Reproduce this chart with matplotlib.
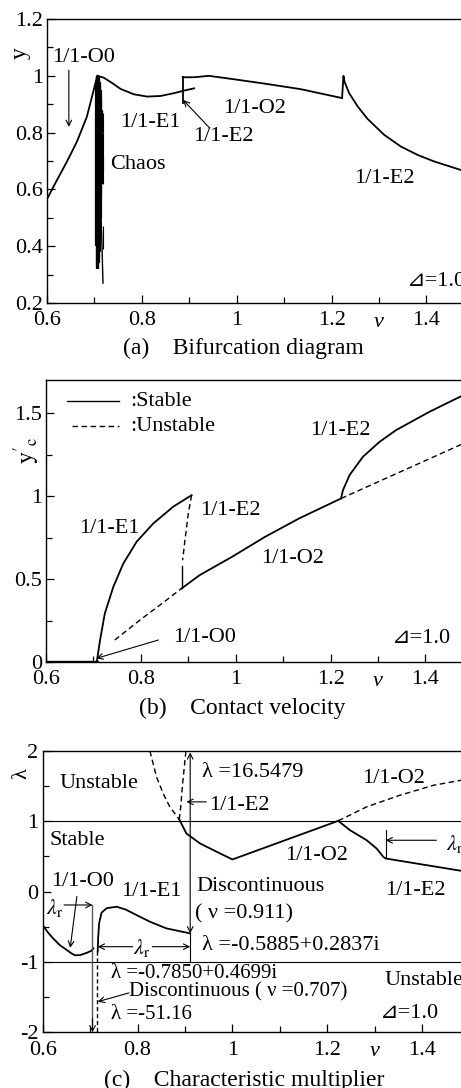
import numpy as np
from matplotlib import pyplot as plt
from matplotlib.ticker import MultipleLocator, FormatStrFormatter
import matplotlib.transforms as mtransforms

plt.rcParams['font.family'] = ['Liberation Serif', 'DejaVu Sans']
plt.rcParams['mathtext.fontset'] = 'stix'

# ---------------- (a) bifurcation diagram ----------------
a_o0_nu = [0.600, 0.621, 0.642, 0.663, 0.684, 0.706]
a_o0_y = [0.566, 0.633, 0.698, 0.768, 0.856, 1.000]

a_e1_nu = [0.707, 0.720, 0.737, 0.755, 0.783, 0.811, 0.839, 0.868, 0.889, 0.910]
a_e1_y = [1.000, 0.993, 0.975, 0.954, 0.935, 0.927, 0.929, 0.939, 0.948, 0.956]

a_e2_jump_nu = [0.886, 0.886]
a_e2_jump_y = [0.905, 0.995]

a_o2_nu = [0.886, 0.910, 0.941, 0.994, 1.065, 1.135, 1.221]
a_o2_y = [0.995, 0.995, 1.000, 0.988, 0.971, 0.953, 0.922]

a_e2_nu = [1.222, 1.225, 1.227, 1.237, 1.255, 1.276, 1.311, 1.346, 1.382, 1.417, 1.477, 1.52]
a_e2_y = [0.922, 1.000, 0.980, 0.939, 0.892, 0.848, 0.792, 0.751, 0.721, 0.698, 0.666, 0.648]

# chaotic band, read as vertical spans
chaos_nu = [0.704, 0.705, 0.706, 0.707, 0.708, 0.709, 0.710, 0.711, 0.712, 0.713, 0.714, 0.715]
chaos_top = [0.97, 1.00, 1.00, 1.00, 1.00, 1.00, 0.99, 0.98, 0.97, 0.95, 0.92, 0.88]
chaos_bot = [0.40, 0.33, 0.32, 0.32, 0.33, 0.34, 0.36, 0.38, 0.42, 0.50, 0.58, 0.62]
chaos_dot_nu = [0.717, 0.718, 0.718, 0.719]
chaos_dot_top = [0.87, 0.80, 0.47, 0.72]
chaos_dot_bot = [0.80, 0.62, 0.39, 0.66]
chaos_tail_nu = [0.712, 0.714, 0.716, 0.717, 0.718]
chaos_tail_y = [0.62, 0.50, 0.40, 0.33, 0.27]

# ---------------- (b) contact velocity ----------------
b_o0_nu = [0.600, 0.707]
b_o0_y = [0.0, 0.0]

b_e1_nu = [0.707, 0.714, 0.724, 0.742, 0.763, 0.791, 0.826, 0.868, 0.907]
b_e1_y = [0.000, 0.133, 0.293, 0.454, 0.594, 0.725, 0.835, 0.936, 1.006]

b_e2u_nu = [0.907, 0.900, 0.893, 0.888]
b_e2u_y = [1.006, 0.896, 0.735, 0.614]
b_e2s_nu = [0.886, 0.886]
b_e2s_y = [0.580, 0.444]

b_o2u_low_nu = [0.745, 0.798, 0.840, 0.886]
b_o2u_low_y = [0.133, 0.253, 0.343, 0.444]

b_o2_nu = [0.886, 0.924, 0.992, 1.062, 1.133, 1.222]
b_o2_y = [0.444, 0.524, 0.634, 0.755, 0.865, 0.986]

b_o2u_nu = [1.222, 1.472, 1.52]
b_o2u_y = [0.986, 1.307, 1.37]

b_e2_nu = [1.222, 1.226, 1.240, 1.268, 1.303, 1.338, 1.408, 1.472, 1.52]
b_e2_y = [0.986, 1.036, 1.127, 1.237, 1.327, 1.398, 1.508, 1.598, 1.66]

# ---------------- (c) characteristic multiplier ----------------
c_o0_nu = [0.600, 0.611, 0.622, 0.636, 0.651, 0.660, 0.668, 0.679, 0.693, 0.703, 0.707]
c_o0_y = [-0.476, -0.580, -0.665, -0.760, -0.831, -0.875, -0.905, -0.902, -0.870, -0.840, -0.807]

c_e1_nu = [0.716, 0.717, 0.719, 0.724, 0.735, 0.756, 0.775, 0.791, 0.826, 0.861, 0.911]
c_e1_y = [-0.850, -0.650, -0.450, -0.300, -0.235, -0.215, -0.255, -0.310, -0.428, -0.523, -0.594]

c_o0u_nu = [0.826, 0.840, 0.854, 0.868, 0.888]
c_o0u_y = [2.000, 1.631, 1.394, 1.205, 1.026]

c_e2u_nu = [0.888, 0.891, 0.895, 0.902]
c_e2u_y = [1.026, 1.205, 1.536, 2.000]

c_o2_nu = [0.888, 0.903, 0.932, 0.967, 1.000, 1.223]
c_o2_y = [1.026, 0.826, 0.684, 0.566, 0.457, 1.006]

c_o2u_nu = [1.223, 1.283, 1.353, 1.424, 1.482, 1.52]
c_o2u_y = [1.006, 1.205, 1.370, 1.512, 1.583, 1.62]

c_e2_nu = [1.223, 1.248, 1.283, 1.304, 1.318, 1.323, 1.482, 1.52]
c_e2_y = [1.006, 0.873, 0.731, 0.613, 0.495, 0.471, 0.296, 0.26]

xticks = [0.6, 0.8, 1.0, 1.2, 1.4]

LW = 1.3
FS = 16
DASH = (0, (4, 2.5))


def style_axes(ax, ylim, ymajor, yminor):
    """Common frame, ticks and the nu label."""
    ax.set_xlim(0.6, 1.5)
    ax.set_ylim(*ylim)
    ax.set_xticks(xticks)
    ax.xaxis.set_minor_locator(MultipleLocator(0.1))
    ax.yaxis.set_major_locator(MultipleLocator(ymajor))
    ax.yaxis.set_minor_locator(MultipleLocator(yminor))
    ax.xaxis.set_major_formatter(FormatStrFormatter('%g'))
    ax.yaxis.set_major_formatter(FormatStrFormatter('%g'))
    ax.tick_params(which='both', direction='in', labelsize=FS, width=0.9)
    ax.tick_params(which='major', length=6, pad=3)
    ax.tick_params(axis='x', which='major', pad=6)
    ax.tick_params(which='minor', length=4)
    for s in ax.spines.values():
        s.set_linewidth(1.0)
    trans = mtransforms.blended_transform_factory(ax.transData, ax.transAxes)
    ax.text(1.3, -0.035, 'ν', transform=trans, ha='center', va='top',
            fontsize=FS, style='italic')


def arrow(ax, xy, xytext, style='->'):
    ax.annotate('', xy=xy, xytext=xytext,
                arrowprops=dict(arrowstyle=style, lw=0.8, color='k',
                                shrinkA=0, shrinkB=0))


fig = plt.figure(figsize=(4.61, 10.88), dpi=100)
ax_a = fig.add_axes([0.102, 0.7215, 0.926, 0.261])
ax_b = fig.add_axes([0.0998, 0.3915, 0.926, 0.2592])
ax_c = fig.add_axes([0.0926, 0.0512, 0.926, 0.2586])

# (a)
ax = ax_a
ax.plot(a_o0_nu, a_o0_y, 'k-', lw=LW)
ax.plot(a_e1_nu, a_e1_y, 'k-', lw=LW)
ax.plot(a_e2_jump_nu, a_e2_jump_y, 'k-', lw=LW)
ax.plot(a_o2_nu, a_o2_y, 'k-', lw=LW)
ax.plot(a_e2_nu, a_e2_y, 'k-', lw=LW)
ax.vlines(chaos_nu, chaos_bot, chaos_top, colors='k', lw=1.6)
ax.vlines(chaos_dot_nu, chaos_dot_bot, chaos_dot_top, colors='k', lw=0.8)
ax.plot(chaos_tail_nu, chaos_tail_y, 'k-', lw=1.0)
style_axes(ax, (0.2, 1.2), 0.2, 0.1)
ax.text(-0.063, 1.08, 'y', transform=mtransforms.blended_transform_factory(ax.transAxes, ax.transData),
        rotation=90, ha='center', va='center', fontsize=FS + 1)
ax.text(0.676, 1.063, '1/1-O0', ha='center', va='center', fontsize=FS)
arrow(ax, (0.646, 0.82), (0.646, 1.02))
ax.text(0.817, 0.837, '1/1-E1', ha='center', va='center', fontsize=FS)
ax.text(0.971, 0.785, '1/1-E2', ha='center', va='center', fontsize=FS)
arrow(ax, (0.887, 0.915), (0.943, 0.816))
ax.text(1.038, 0.886, '1/1-O2', ha='center', va='center', fontsize=FS)
ax.text(0.733, 0.686, 'Chaos', ha='left', va='center', fontsize=FS)
ax.text(1.311, 0.64, '1/1-E2', ha='center', va='center', fontsize=FS)
ax.text(1.358, 0.274, '⊿=1.0', ha='left', va='center', fontsize=FS)

# (b)
ax = ax_b
ax.plot(b_o0_nu, b_o0_y, 'k-', lw=2.4)
ax.plot(b_e1_nu, b_e1_y, 'k-', lw=LW)
ax.plot(b_e2u_nu, b_e2u_y, 'k', ls=DASH, lw=1.0)
ax.plot(b_e2s_nu, b_e2s_y, 'k-', lw=1.0)
ax.plot(b_o2u_low_nu, b_o2u_low_y, 'k', ls=DASH, lw=1.0)
ax.plot(b_o2_nu, b_o2_y, 'k-', lw=LW)
ax.plot(b_o2u_nu, b_o2u_y, 'k', ls=DASH, lw=1.0)
ax.plot(b_e2_nu, b_e2_y, 'k-', lw=LW)
style_axes(ax, (0, 1.7), 0.5, 0.25)
ax.text(-0.045, 1.277, r"$\mathrm{y}'_\mathrm{c}$", transform=mtransforms.blended_transform_factory(ax.transAxes, ax.transData),
        rotation=90, ha='center', va='center', fontsize=FS + 1)
ax.plot([0.644, 0.754], [1.573, 1.573], 'k-', lw=1.0)
ax.text(0.778, 1.573, ':Stable', ha='left', va='center', fontsize=FS)
ax.plot([0.655, 0.754], [1.422, 1.422], 'k', ls=DASH, lw=1.0)
ax.text(0.778, 1.422, ':Unstable', ha='left', va='center', fontsize=FS)
ax.text(0.733, 0.805, '1/1-E1', ha='center', va='center', fontsize=FS)
ax.text(0.924, 0.916, '1/1-E2', ha='left', va='center', fontsize=FS)
ax.text(1.119, 0.624, '1/1-O2', ha='center', va='center', fontsize=FS)
ax.text(1.22, 1.398, '1/1-E2', ha='center', va='center', fontsize=FS)
ax.text(0.867, 0.145, '1/1-O0', ha='left', va='center', fontsize=FS)
arrow(ax, (0.706, 0.022), (0.837, 0.133))
ax.text(1.329, 0.143, '⊿=1.0', ha='left', va='center', fontsize=FS)

# (c)
ax = ax_c
ax.axhline(1.0, color='k', lw=0.8)
ax.axhline(-1.0, color='k', lw=0.8)
ax.plot(c_o0_nu, c_o0_y, 'k-', lw=LW)
ax.plot(c_e1_nu, c_e1_y, 'k-', lw=LW)
ax.plot(c_o0u_nu, c_o0u_y, 'k', ls=DASH, lw=1.0)
ax.plot(c_e2u_nu, c_e2u_y, 'k', ls=DASH, lw=1.0)
ax.plot(c_o2_nu, c_o2_y, 'k-', lw=LW)
ax.plot(c_o2u_nu, c_o2u_y, 'k', ls=DASH, lw=1.0)
ax.plot(c_e2_nu, c_e2_y, 'k-', lw=LW)
style_axes(ax, (-2, 2), 1, 0.5)
ax.text(-0.048, 1.68, 'λ', transform=mtransforms.blended_transform_factory(ax.transAxes, ax.transData),
        rotation=90, ha='center', va='center', fontsize=FS)
# jump at nu = 0.911
arrow(ax, (0.911, 1.98), (0.911, -0.594), '<->')
ax.plot([0.911, 0.911], [-1.0, -0.594], 'k-', lw=0.8)
arrow(ax, (0.716, -0.783), (0.911, -0.783), '<->')
ax.text(0.81, -0.80, r'$\lambda_\mathrm{r}$', ha='center', va='center', fontsize=FS,
        bbox=dict(fc='white', ec='none', pad=0.5))
# jump at nu = 0.707
ax.plot([0.705, 0.705], [-0.19, -1.9], color='0.35', lw=1.0)
arrow(ax, (0.705, -2.0), (0.705, -1.8))
ax.plot([0.715, 0.715], [-0.85, -2.0], 'k', ls=(0, (3, 2)), lw=1.0)
ax.text(0.626, -0.24, r'$\lambda_\mathrm{r}$', ha='center', va='center', fontsize=FS)
arrow(ax, (0.705, -0.19), (0.645, -0.19))
arrow(ax, (0.658, -0.80), (0.672, -0.07))
ax.text(0.617, 0.14, '1/1-O0', ha='left', va='center', fontsize=FS)
ax.text(0.830, -0.002, '1/1-E1', ha='center', va='center', fontsize=FS)
ax.text(0.635, 1.536, 'Unstable', ha='left', va='center', fontsize=FS)
ax.text(0.614, 0.731, 'Stable', ha='left', va='center', fontsize=FS)
ax.text(0.935, 1.70, 'λ =16.5479', ha='left', va='center', fontsize=FS)
arrow(ax, (0.903, 1.276), (0.945, 1.276))
ax.text(0.950, 1.23, '1/1-E2', ha='left', va='center', fontsize=FS)
ax.text(1.339, 1.607, '1/1-O2', ha='center', va='center', fontsize=FS)
ax.text(1.178, 0.518, '1/1-O2', ha='center', va='center', fontsize=FS)
ax.text(1.385, 0.021, '1/1-E2', ha='center', va='center', fontsize=FS)
ax.plot([1.323, 1.323], [0.471, 0.873], 'k-', lw=0.8)
arrow(ax, (1.323, 0.73), (1.43, 0.73))
ax.text(1.451, 0.684, r'$\lambda_\mathrm{r}$', ha='left', va='center', fontsize=FS)
ax.text(0.925, 0.069, 'Discontinuous', ha='left', va='center', fontsize=FS)
ax.text(0.921, -0.31, '( ν =0.911)', ha='left', va='center', fontsize=FS)
ax.text(0.935, -0.76, 'λ =-0.5885+0.2837i', ha='left', va='center', fontsize=FS)
ax.text(0.745, -1.17, 'λ =-0.7850+0.4699i', ha='left', va='center', fontsize=FS - 1)
ax.text(0.781, -1.43, 'Discontinuous ( ν =0.707)', ha='left', va='center', fontsize=FS - 1)
arrow(ax, (0.716, -1.565), (0.782, -1.44))
ax.text(0.745, -1.754, 'λ =-51.16', ha='left', va='center', fontsize=FS - 1)
ax.text(1.321, -1.257, 'Unstable', ha='left', va='center', fontsize=FS)
ax.text(1.311, -1.73, '⊿=1.0', ha='left', va='center', fontsize=FS)

# captions
fig.text(0.528, 1 - 348 / 1088, '(a)    Bifurcation diagram', ha='center', va='center', fontsize=17)
fig.text(0.526, 1 - 708 / 1088, '(b)    Contact velocity', ha='center', va='center', fontsize=17)
fig.text(0.530, 1 - 1080 / 1088, '(c)    Characteristic multiplier', ha='center', va='center', fontsize=17)

fig.savefig('out.png', dpi=100)
